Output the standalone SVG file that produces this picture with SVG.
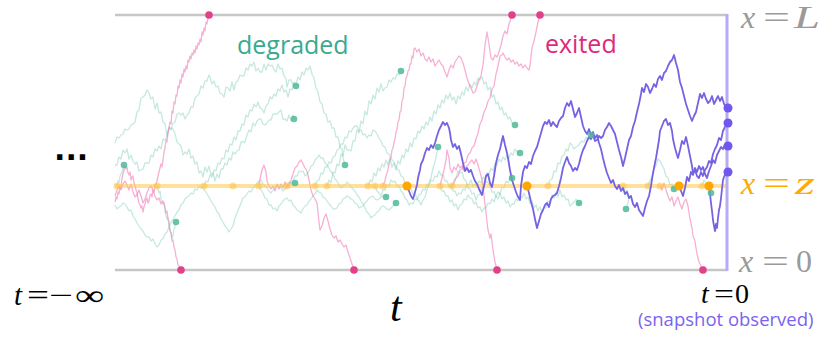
<svg xmlns="http://www.w3.org/2000/svg" width="830" height="338" viewBox="0 0 830 338">
<style>
.teal{fill:none;stroke:#5cbfa4;stroke-opacity:.35;stroke-width:1.3;stroke-linejoin:round}
.pink{fill:none;stroke:#f27cb7;stroke-opacity:.6;stroke-width:1.3;stroke-linejoin:round}
.purp{fill:none;stroke:#7563e3;stroke-width:1.8;stroke-linejoin:round}
.tdot{fill:#4fb89a;fill-opacity:.85}
.pdot{fill:#e2408a}
.odot{fill:#ffa600}
.ydot{fill:#ffc040;fill-opacity:.5}
.vdot{fill:#7257ee}
.bound{stroke:#c6c6c6;stroke-width:2.5}
.math{font-family:"Liberation Serif","DejaVu Serif",serif;font-style:italic}
.up{font-style:normal}
.sans{font-family:"Open Sans","Noto Sans",sans-serif}
</style>
<rect width="830" height="338" fill="#ffffff"/>
<g id="boundaries">
<line class="bound" x1="115" y1="15" x2="727" y2="15"/>
<line class="bound" x1="115" y1="270" x2="727" y2="270"/>
</g>
<g id="degraded-paths">
<polyline class="teal" points="117,186 118,181 119,183 120,176 122,172 123,168 124,165"/>
<polyline class="teal" points="157,186 159,193 160,191 161,199 163,204 164,203 165,212 167,219 168,218 169,227 171,233 172,238 173,236 174,229 175,227 176,222"/>
<polyline class="teal" points="115,143 117,137 119,138 121,135 123,134 125,129 127,130 129,129 131,125 133,124 135,122 137,112 139,110 141,98 143,97 145,95 147,90 149,93 151,99 153,97 155,109 157,103 159,113 161,112 163,122 165,124 167,136 169,128 171,128 173,129 175,134 177,142 179,144 181,146 183,155 185,152 187,154 189,149 191,158 193,156 195,164 197,162 199,173 201,171 203,177 205,167 207,172 209,166 211,175 213,173 215,181 217,174 219,178 221,169 223,169 225,163 227,165 229,158 231,160 233,152 235,154 237,151 239,150 241,142 243,142 245,142 247,135 249,130 251,132 253,123 255,126 257,121 259,119 261,119 263,124 265,125 267,123 269,120 271,120 273,114 275,114 277,114 279,112 281,110 283,119 285,119 287,121 289,115 291,121 293,115 294,119"/>
<polyline class="teal" points="115,165 117,165 119,157 121,159 123,150 125,153 127,149 129,159 131,155 133,161 135,164 137,162 139,171 141,170 143,169 145,163 147,163 149,163 151,155 153,157 155,149 157,151 159,146 161,149 163,139 165,140 167,136 169,127 171,130 173,123 175,122 177,114 179,113 181,115 183,113 185,119 187,115 189,113 191,107 193,107 195,98 197,96 199,94 201,86 203,88 205,81 207,81 209,75 210,77 212,84 214,81 216,87 218,86 220,93 222,94 224,97 226,87 228,88 230,91 232,82 234,90 236,82 238,81 240,75 242,76 244,76 246,68 248,70 250,64 252,66 254,62 256,71 258,68 260,72 262,72 264,64 266,70 268,64 270,66 272,65 274,70 276,72 278,64 280,69 282,68 284,76 286,79 287,87 289,80 291,80 293,85 296,86"/>
<polyline class="teal" points="204,186 206,181 208,182 210,175 212,177 214,170 216,171 218,163 220,164 222,158 224,159 226,150 228,152 230,144 232,145 234,137 236,140 238,131 240,131 242,124 244,125 246,115 248,117 250,110 252,111 254,104 256,107 258,102 260,108 262,109 264,113 266,106 268,104 270,97 272,99 274,94 276,96 278,89 280,91 282,85 284,92 286,90 288,97 290,89 292,90 294,82 296,84 298,77 300,80 302,72 304,75 306,68 308,70 310,66 312,74 314,78 316,88 318,92 320,102 322,104 324,113 326,114 328,122 330,121 332,128 334,128 336,137 338,137 340,147 342,149 343,158 345,165"/>
<polyline class="teal" points="327,186 329,180 331,183 333,172 335,173 337,164 339,166 341,154 343,156 345,145 347,150 349,150 351,151 353,141 355,141 357,130 359,133 361,121 363,124 365,111 367,115 369,101 371,104 373,95 375,99 377,88 379,92 381,84 383,91 385,88 387,87 389,80 391,82 393,78 395,79 397,74 399,75 401,71"/>
<polyline class="teal" points="115,205 117,209 119,207 121,206 123,203 125,204 127,207 129,211 131,210 133,216 135,219 137,223 139,226 141,229 143,231 145,235 147,237 149,237 151,241 153,239 155,244 157,247 159,245 161,240 163,239 165,234 167,232 169,227 171,222 173,219 175,216 177,212 179,210 181,205 183,203 185,199 187,197 189,196 191,193 193,194 195,189 197,190 199,186 201,188 203,187 205,191 207,194 209,197 211,201 213,204 215,207 217,212 219,214 221,219 223,222 225,226 227,228 229,232 231,229 233,226 235,218 237,213 239,208 241,203 243,198 245,197 247,194 249,191 251,192 253,188 255,186 257,183 259,181 261,180 263,184 265,186 267,188 269,191 271,193 273,190 275,187 277,184 279,186 281,188 283,191 285,189 287,187 289,186 291,183 293,185 295,183"/>
<polyline class="teal" points="259,186 261,190 263,193 265,198 267,199 269,205 271,205 273,209 275,208 277,211 279,206 281,204 283,201 285,199 287,198 289,201 291,200 293,205 295,207 297,210 299,211 301,213 303,209 305,206 307,205 309,201 311,199 313,196 315,194 317,190 319,192 321,193 323,197 325,198 327,201 329,204 331,206 333,209 335,209 337,208 339,204 341,203 343,199 345,198 347,196 349,197 351,199 353,200 355,203 357,204 359,208 361,207 363,206 365,203 367,201 369,198 371,197 373,196 375,199 377,200 379,199 381,197 383,196 386,197"/>
<polyline class="teal" points="287,186 289,182 291,183 293,181 295,176 297,176 299,171 301,172 303,171 305,176 307,174 309,171 311,166 313,165 315,160 317,158 319,155 321,158 323,158 325,163 327,165 329,168 331,172 333,174 335,179 337,181 339,185 341,188 343,186 345,185 347,182 349,184 351,187 353,189 355,191 357,195 359,197 361,201 363,204 365,208 367,212 369,214 371,218 373,216 375,215 377,212 379,211 381,207 383,206 385,207 387,209 389,210 391,208 393,206 396,203"/>
<polyline class="teal" points="315,186 317,181 319,180 321,173 323,174 325,167 327,167 329,162 331,163 333,157 335,156 337,150 339,149 341,144 343,144 345,137 347,138 349,131 351,132 353,128 355,126 357,126 359,131 361,130 363,135 365,134 367,138 369,135 371,136 373,130 375,131 377,134 379,138 381,141 383,146 385,147 387,153 389,154 391,158 393,161 395,164 397,169 399,170 401,176 403,177 405,183 407,185 409,190 411,189 413,194 415,193 417,199 419,201 421,205 423,200 425,197 427,190 429,183 431,178 433,168 435,162 437,152 438,147"/>
<polyline class="teal" points="368,186 370,180 372,182 374,173 376,176 378,168 380,171 382,164 384,167 386,160 388,165 390,158 392,167 394,163 396,170 398,161 400,164 402,155 404,158 406,149 408,152 410,143 412,147 414,138 416,139 418,131 420,133 422,126 424,129 426,122 428,125 430,117 432,121 434,111 436,114 438,105 440,108 442,100 444,103 446,95 448,99 450,93 452,100 454,97 456,104 458,96 460,99 462,92 464,95 466,87 468,91 470,84 472,88 474,82 476,85 478,78 480,80 482,77 484,84 486,82 488,90 490,87 492,97 494,95 496,104 498,102 500,110 502,107 504,115 506,113 508,119 510,117 512,123 515,125"/>
<polyline class="teal" points="375,186 377,191 379,193 381,196 383,190 385,190 387,185 389,186 391,180 393,182 395,181 397,186 399,186 401,191 403,193 405,198 407,200 409,205 411,203 413,204 415,199 417,200 419,195 421,194 423,189 425,190 427,184 429,186 431,180 433,181 435,176 437,177 439,171 441,175 443,175 445,181 447,181 449,186 451,186 453,191 455,191 457,196 459,193 461,194 463,189 465,190 467,184 469,185 471,180 473,186 475,184 477,187 479,181 481,183 483,177 485,179 487,173 489,174 491,168 493,171 495,164 497,165 499,159 501,162 503,157 505,160 507,155 509,158 511,153 513,155 515,149 517,152 520,153"/>
<polyline class="teal" points="452,186 454,180 456,178 458,171 460,173 462,172 464,179 466,181 468,188 470,189 472,194 474,193 476,200 478,195 480,194 482,188 484,187 486,181 488,183 490,186 492,192 494,192 496,197 498,192 500,194 502,187 504,188 506,181 508,183 510,178 512,178"/>
<polyline class="teal" points="440,186 442,191 444,191 446,196 448,196 450,202 452,200 454,206 456,204 458,210 460,205 462,204 464,199 466,200 468,195 470,198 472,199 474,204 476,202 478,208 480,207 482,212 484,208 486,208 488,203 490,204 492,199 494,202 496,196 498,199 500,193 502,199 504,197 506,203 508,201 510,207 512,204 514,204 516,199 518,201 520,195 522,198 524,193 526,199 528,197 530,203 532,201 534,208 536,205 538,211 540,207 542,212 544,207 546,208 548,201 550,202 552,195 554,198 556,192 558,197 560,190 562,197 564,195 566,200 568,199 570,206 572,204 574,202 576,199 579,203"/>
<polyline class="teal" points="548,186 550,180 552,179 554,171 556,172 558,163 560,164 562,156 564,155 566,149 568,151 570,143 572,145 574,149 576,147 578,146 580,143 582,141 584,142 586,137 588,139 591,135"/>
<polyline class="teal" points="623,186 625,192 627,190 629,197 628,203 626,209"/>
<polyline class="teal" points="648,186 650,180 652,177 654,168 656,166 658,159 660,161 662,165 664,169 666,176 668,178 670,185 672,184 674,189"/>
<polyline class="teal" points="702,186 704,180 706,183 708,186 710,190 711,193"/>
</g>
<g id="exited-paths">
<polyline class="pink" points="115,202 116,197 117,199 118,192 119,194 120,186 121,188 122,178 123,174 124,170 125,166 126,169 127,167 128,173 129,175 130,172 131,180 132,177 133,176 134,183 135,186 136,190 137,193 138,199 139,203 140,205 141,208 142,206 143,212 144,207 145,204 146,200 147,198 148,203 149,201 150,195 151,194 152,197 153,190 154,192 155,186 156,184 157,181 158,176 159,172 160,168 161,164 162,167 163,160 164,152 165,148 166,140 167,142 168,133 169,128 170,122 171,124 172,111 173,113 174,102 175,104 176,95 177,96 178,86 179,88 180,80 181,83 182,74 183,77 184,69 185,72 186,66 187,69 188,60 189,62 190,56 191,59 192,53 193,55 194,50 195,53 196,46 197,49 198,43 199,45 200,39 201,42 202,32 203,35 204,28 205,31 206,22 207,24 208,18 209,15"/>
<polyline class="pink" points="115,196 117,190 119,186 121,190 123,184 125,181 127,185 129,190 131,184 133,192 135,197 137,195 139,190 141,196 143,203 145,199 147,193 149,188 151,186 153,190 155,196 157,200 159,198 161,204 163,201 165,207 166,213 167,211 168,219 169,222 170,231 171,233 172,241 173,240 174,247 175,250 176,257 177,259 178,265 179,266 180,269 181,270"/>
<polyline class="pink" points="259,186 260,179 262,170 264,165 266,172 267,181 269,186 271,189 273,186 275,191 277,185 279,189 281,184 283,188 285,182 287,187 289,184 291,180 293,174 295,168 297,166 299,162 301,160 303,164 305,168 307,171 309,180 311,190 313,196 315,199 317,203 318,212 319,222 320,230 322,226 324,218 326,214 328,221 330,229 332,235 334,238 336,236 338,242 340,240 342,244 344,247 346,245 348,252 350,258 352,264 354,270"/>
<polyline class="pink" points="383,187 384,183 385,181 386,176 387,173 388,169 389,164 390,160 391,157 392,150 393,148 394,143 395,139 396,132 397,129 398,122 399,120 400,112 401,111 402,101 403,99 404,88 405,86 406,78 407,76 408,71 409,70 410,64 411,64 412,56 413,58 414,49 415,48 417,52 419,49 421,56 423,53 425,59 427,61 429,57 431,62 433,59 435,66 437,63 439,60 441,64 443,66 445,72 447,77 449,70 451,65 453,68 455,62 457,59 459,56 461,58 463,63 465,70 467,78 469,84 471,88 473,93 475,92 477,86 479,80 481,76 483,65 485,45 487,32 489,44 491,58 493,60 495,55 497,57 499,52 501,45 503,36 505,31 507,34 509,24 511,18 512,15"/>
<polyline class="pink" points="452,186 454,183 456,178 458,176 460,170 462,169 464,163 466,162 468,155 470,153 472,148 474,146 476,139 478,133 480,124 482,120 484,112 486,108 488,101 490,98 492,89 494,86 496,74 498,66 500,56 502,55 503,53 505,57 507,60 509,58 511,62 513,60 515,64 517,62 519,66 521,64 523,68 525,65 527,68 529,70 530,66 531,56 532,48 534,41 536,32 538,22 540,15"/>
<polyline class="pink" points="440,186 442,178 444,170 446,160 447,150 449,158 450,168 452,173 454,167 456,170 458,164 460,168 462,166 464,171 466,167 468,165 470,162 472,160 474,164 476,159 478,165 480,172 482,180 483,188 484,196 485,204 486,212 487,222 488,230 490,238 491,234 492,242 493,250 494,256 495,262 496,266 497,270"/>
<polyline class="pink" points="660,186 662,190 664,183 666,190 668,196 670,201 672,197 674,206 676,201 678,197 680,204 682,209 684,202 686,199 688,206 690,219 692,228 693,236 695,241 696,248 697,254 698,258 699,262 701,266 703,270"/>
</g>
<g id="source-line">
<line x1="115" y1="186" x2="727" y2="186" stroke="#ffc94a" stroke-opacity=".55" stroke-width="4"/>
<g class="ydot">
<circle cx="117" cy="186" r="3.5"/><circle cx="157" cy="186" r="3.5"/><circle cx="204" cy="186" r="3.5"/><circle cx="233" cy="186" r="3.5"/><circle cx="259" cy="186" r="3.5"/><circle cx="287" cy="186" r="3.5"/><circle cx="315" cy="186" r="3.5"/><circle cx="327" cy="186" r="3.5"/><circle cx="368" cy="186" r="3.5"/><circle cx="375" cy="186" r="3.5"/><circle cx="383" cy="186" r="3.5"/><circle cx="440" cy="186" r="3.5"/><circle cx="452" cy="186" r="3.5"/><circle cx="548" cy="186" r="3.5"/><circle cx="623" cy="186" r="3.5"/><circle cx="648" cy="186" r="3.5"/><circle cx="660" cy="186" r="3.5"/><circle cx="702" cy="186" r="3.5"/>
</g>
</g>
<g id="surviving-paths">
<polyline class="purp" points="407,186 409,191 411,196 413,199 415,192 417,185 418,178 420,170 421,164 423,160 425,153 427,148 429,150 431,145 433,148 435,143 437,136 439,130 441,126 443,122 445,125 447,123 449,128 450,133 451,140 453,147 455,144 457,149 459,146 461,154 463,163 465,171 467,168 469,172 471,170 473,176 475,181 477,184 479,189 481,193 482,195 484,186 486,176 488,174 490,183 492,187 494,176 496,163 498,155 500,149 502,140 503,136 505,145 507,153 508,158 510,170 512,180 514,186 516,192 518,197 520,200 521,186 523,172 525,166 527,168 529,162 531,164 533,156 535,151 537,147 539,140 541,133 543,126 545,122 547,124 549,120 551,126 553,122 555,125 557,127 559,121 561,118 563,116 565,108 567,103 569,106 571,101 573,109 575,117 577,113 579,108 581,117 583,126 585,131 587,134 589,129 591,135 593,132 595,138 597,135 599,143 601,149 603,158 605,166 607,173 609,178 611,183 613,180 615,186 617,189 619,185 621,191 623,188 625,194 627,192 629,198 631,196 633,204 635,207 637,203 639,210 641,213 643,216 645,208 647,201 649,196 651,186 652,179 654,168 656,158 657,152 659,140 660,131 662,126 664,121 666,119 668,125 670,123 672,131 673,139 675,148 677,155 678,158 680,150 682,141 684,144 686,137 688,146 690,156 692,166 693,173 695,170 697,176 699,178 701,172 703,176 705,170 707,167 709,161 711,163 713,154 715,149 717,145 719,138 721,140 723,131 725,127 727,123"/>
<polyline class="purp" points="527,186 529,193 531,202 533,209 535,219 537,228 539,221 541,214 543,210 545,205 547,203 549,207 551,199 553,196 555,195 557,193 559,186 561,178 563,168 565,162 567,157 569,163 571,166 573,171 575,168 577,170 579,164 581,156 583,150 585,146 587,141 589,137 591,139 593,135 595,141 597,140 599,136 601,138 603,136 605,130 607,127 609,123 611,126 613,130 615,134 617,142 619,150 621,157 623,166 625,158 627,149 629,140 631,136 633,127 635,121 637,112 639,104 641,94 642,88 644,92 646,84 648,87 650,93 652,89 654,84 656,87 658,79 660,76 662,80 664,73 666,71 668,66 670,62 672,60 674,55 676,63 678,70 680,82 682,88 684,96 686,104 688,110 690,116 692,121 694,116 696,112 698,103 700,94 702,98 704,93 706,99 708,103 710,101 712,96 714,104 716,100 718,96 720,101 722,97 724,104 727,108"/>
<polyline class="purp" points="679,186 681,191 683,196 685,188 687,177 689,181 691,172 693,175 695,168 697,172 699,166 701,170 703,167 705,174 707,178 709,171 711,166 713,160 715,163 717,155 719,151 721,147 723,149 725,145 727,146"/>
<polyline class="purp" points="709,186 710,194 711,203 712,211 713,220 714,226 715,231 716,224 717,228 718,218 719,210 720,206 721,198 722,189 723,180 724,177 725,175 727,172"/>
</g>
<line id="snapshot-line" x1="727" y1="14" x2="727" y2="271" stroke="#b5abf7" stroke-width="3"/>
<g id="end-dots">
<g class="tdot">
<circle cx="124" cy="165" r="3.3"/><circle cx="176" cy="222" r="3.3"/><circle cx="296" cy="86" r="3.3"/><circle cx="294" cy="119" r="3.3"/><circle cx="345" cy="165" r="3.3"/><circle cx="401" cy="71" r="3.3"/><circle cx="295" cy="183" r="3.3"/><circle cx="386" cy="197" r="3.3"/><circle cx="396" cy="203" r="3.3"/><circle cx="438" cy="147" r="3.3"/><circle cx="515" cy="125" r="3.3"/><circle cx="520" cy="153" r="3.3"/><circle cx="512" cy="178" r="3.3"/><circle cx="579" cy="203" r="3.3"/><circle cx="591" cy="135" r="3.3"/><circle cx="626" cy="209" r="3.3"/><circle cx="674" cy="189" r="3.3"/><circle cx="711" cy="193" r="3.3"/>
</g>
<g class="pdot">
<circle cx="209" cy="15" r="3.8"/><circle cx="512" cy="15" r="3.8"/><circle cx="540" cy="15" r="3.8"/><circle cx="181" cy="270" r="3.8"/><circle cx="354" cy="270" r="3.8"/><circle cx="497" cy="270" r="3.8"/><circle cx="703" cy="270" r="3.8"/>
</g>
<g class="odot">
<circle cx="407" cy="186" r="4.5"/><circle cx="527" cy="186" r="4.5"/><circle cx="679" cy="186" r="4.5"/><circle cx="709" cy="186" r="4.5"/>
</g>
<g class="vdot">
<circle cx="728" cy="108" r="4.5"/><circle cx="728" cy="123" r="4.5"/><circle cx="728" cy="146" r="4.5"/><circle cx="728" cy="172" r="4.5"/>
</g>
</g>
<g id="labels">
<text class="sans" x="237" y="54" font-size="25" fill="#3aaa8e">degraded</text>
<text class="sans" x="545" y="53" font-size="25" fill="#e0287c">exited</text>
<g class="math" font-size="32" fill="#9a9a9a">
<text x="741" y="28">x</text><text class="up" x="763" y="28" textLength="27" lengthAdjust="spacingAndGlyphs">=</text><text x="794" y="28" textLength="26" lengthAdjust="spacingAndGlyphs">L</text>
</g>
<g class="math" font-size="32" fill="#ffab00">
<text x="741" y="194">x</text><text class="up" x="763" y="194" textLength="27" lengthAdjust="spacingAndGlyphs">=</text><text x="795" y="194" textLength="20" lengthAdjust="spacingAndGlyphs">z</text>
</g>
<g class="math" font-size="32" fill="#9a9a9a">
<text x="739" y="272">x</text><text class="up" x="762" y="272" textLength="27" lengthAdjust="spacingAndGlyphs">=</text><text class="up" x="796" y="272">0</text>
</g>
<g class="math" font-size="29" fill="#000000">
<text x="14" y="305">t</text><text class="up" x="27" y="305" textLength="22" lengthAdjust="spacingAndGlyphs">=</text><text class="up" x="49" y="305" textLength="24" lengthAdjust="spacingAndGlyphs">−</text><text class="up" x="75" y="305" textLength="29" lengthAdjust="spacingAndGlyphs">∞</text>
<text x="701" y="303" font-size="28">t</text><text class="up" x="714" y="303" font-size="28" textLength="20" lengthAdjust="spacingAndGlyphs">=</text><text class="up" x="735" y="303" font-size="28">0</text>
<text x="390" y="321" font-size="42">t</text>
</g>
<text class="sans" x="638" y="326" font-size="18.5" fill="#7b63ef">(snapshot observed)</text>
<text x="54" y="160" font-family="DejaVu Sans, sans-serif" font-weight="bold" font-size="30" fill="#000000">...</text>
</g>
</svg>
